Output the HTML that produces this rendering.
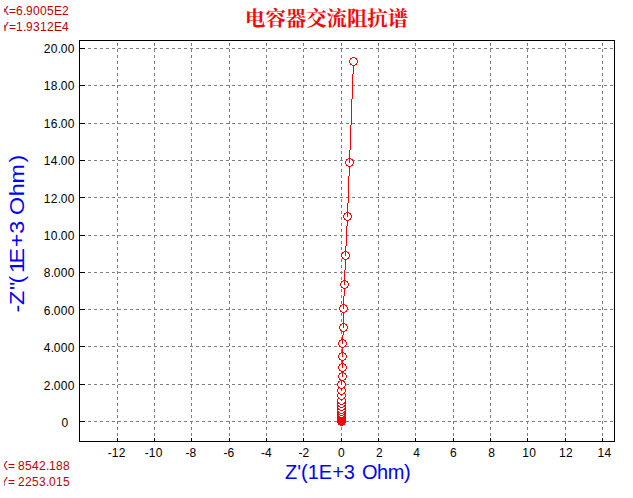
<!DOCTYPE html>
<html><head><meta charset="utf-8"><title>chart</title>
<style>html,body{margin:0;padding:0;background:#fff;overflow:hidden}body{width:633px;height:498px;position:relative;font-family:"Liberation Sans",sans-serif}</style>
</head><body>
<svg width="633" height="498" viewBox="0 0 633 498" style="position:absolute;left:0;top:0">
<rect width="633" height="498" fill="#fff"/>
<g shape-rendering="crispEdges">
<path d="M82 48.5H614M82 85.5H614M82 123.5H614M82 160.5H614M82 197.5H614M82 235.5H614M82 272.5H614M82 309.5H614M82 346.5H614M82 384.5H614M82 421.5H614" stroke="#808080" stroke-width="1" stroke-dasharray="3 3" fill="none"/>
<path d="M117.5 43V441M154.5 43V441M191.5 43V441M229.5 43V441M266.5 43V441M303.5 43V441M341.5 43V441M378.5 43V441M415.5 43V441M453.5 43V441M490.5 43V441M527.5 43V441M565.5 43V441M602.5 43V441" stroke="#808080" stroke-width="1" stroke-dasharray="3 3" fill="none"/>
<path d="M79.5 40.5H614.5V441.5H79.5Z" stroke="#000" stroke-width="1" fill="none"/>
<path d="M80 48h5v1h-5zM80 85h5v1h-5zM80 123h5v1h-5zM80 160h5v1h-5zM80 197h5v1h-5zM80 235h5v1h-5zM80 272h5v1h-5zM80 309h5v1h-5zM80 346h5v1h-5zM80 384h5v1h-5zM80 421h5v1h-5zM117 438h1v3h-1zM154 438h1v3h-1zM191 438h1v3h-1zM229 438h1v3h-1zM266 438h1v3h-1zM303 438h1v3h-1zM341 438h1v3h-1zM378 438h1v3h-1zM415 438h1v3h-1zM453 438h1v3h-1zM490 438h1v3h-1zM527 438h1v3h-1zM565 438h1v3h-1zM602 438h1v3h-1z" fill="#000"/>
<path fill="#ffffff" d="M352 58h3v1h-3zM351 59h5v1h-5zM350 60h7v1h-7zM350 61h7v1h-7zM350 62h7v1h-7zM351 63h5v1h-5zM352 64h3v1h-3zM348 159h1v1h-1zM350 159h1v1h-1zM347 160h2v1h-2zM350 160h2v1h-2zM346 161h3v1h-3zM350 161h3v1h-3zM346 162h3v1h-3zM350 162h3v1h-3zM346 163h7v1h-7zM347 164h5v1h-5zM348 165h3v1h-3zM346 213h1v1h-1zM348 213h1v1h-1zM345 214h2v1h-2zM348 214h2v1h-2zM344 215h3v1h-3zM348 215h3v1h-3zM344 216h3v1h-3zM348 216h3v1h-3zM344 217h7v1h-7zM345 218h5v1h-5zM346 219h3v1h-3zM344 252h1v1h-1zM346 252h1v1h-1zM343 253h2v1h-2zM346 253h2v1h-2zM342 254h3v1h-3zM346 254h3v1h-3zM342 255h3v1h-3zM346 255h3v1h-3zM342 256h7v1h-7zM343 257h5v1h-5zM344 258h3v1h-3zM343 281h1v1h-1zM345 281h1v1h-1zM342 282h2v1h-2zM345 282h2v1h-2zM341 283h3v1h-3zM345 283h3v1h-3zM341 284h3v1h-3zM345 284h3v1h-3zM341 285h7v1h-7zM342 286h5v1h-5zM343 287h3v1h-3zM342 305h1v1h-1zM344 305h1v1h-1zM341 306h2v1h-2zM344 306h2v1h-2zM340 307h3v1h-3zM344 307h3v1h-3zM340 308h3v1h-3zM344 308h3v1h-3zM340 309h7v1h-7zM341 310h5v1h-5zM342 311h3v1h-3zM342 324h1v1h-1zM344 324h1v1h-1zM341 325h2v1h-2zM344 325h2v1h-2zM340 326h3v1h-3zM344 326h3v1h-3zM340 327h3v1h-3zM344 327h3v1h-3zM340 328h7v1h-7zM341 329h5v1h-5zM342 330h3v1h-3zM341 340h1v1h-1zM343 340h1v1h-1zM340 341h2v1h-2zM343 341h2v1h-2zM339 342h3v1h-3zM343 342h3v1h-3zM339 343h3v1h-3zM343 343h3v1h-3zM339 344h7v1h-7zM340 345h5v1h-5zM341 346h3v1h-3zM341 353h1v1h-1zM343 353h1v1h-1zM340 354h2v1h-2zM343 354h2v1h-2zM339 355h3v1h-3zM343 355h3v1h-3zM339 356h3v1h-3zM343 356h3v1h-3zM339 357h7v1h-7zM340 358h5v1h-5zM341 359h3v1h-3zM341 364h1v1h-1zM343 364h1v1h-1zM340 365h2v1h-2zM343 365h2v1h-2zM339 366h3v1h-3zM343 366h3v1h-3zM339 367h3v1h-3zM343 367h3v1h-3zM339 368h7v1h-7zM340 369h5v1h-5zM341 370h3v1h-3zM341 373h1v1h-1zM343 373h1v1h-1zM340 374h2v1h-2zM343 374h2v1h-2zM339 375h3v1h-3zM343 375h3v1h-3zM339 376h3v1h-3zM343 376h3v1h-3zM339 377h7v1h-7zM340 378h5v1h-5zM341 379h3v1h-3zM340 381h1v1h-1zM342 381h1v1h-1zM339 382h2v1h-2zM342 382h2v1h-2zM338 383h3v1h-3zM342 383h3v1h-3zM338 384h3v1h-3zM342 384h3v1h-3zM338 385h7v1h-7zM339 386h5v1h-5zM340 387h3v1h-3zM339 388h1v1h-1zM343 388h1v1h-1zM338 389h3v1h-3zM342 389h3v1h-3zM338 390h3v1h-3zM342 390h3v1h-3zM338 391h7v1h-7zM339 392h5v1h-5zM340 393h3v1h-3zM338 394h2v1h-2zM343 394h2v1h-2zM338 395h3v1h-3zM342 395h3v1h-3zM338 396h7v1h-7zM339 397h5v1h-5zM340 398h3v1h-3zM338 399h2v1h-2zM343 399h2v1h-2zM338 400h3v1h-3zM342 400h3v1h-3zM338 401h7v1h-7zM339 402h5v1h-5zM340 403h3v1h-3zM338 404h2v1h-2zM343 404h2v1h-2zM339 405h5v1h-5zM340 406h3v1h-3zM338 407h2v1h-2zM343 407h2v1h-2zM339 408h5v1h-5zM340 409h3v1h-3zM338 410h2v1h-2zM343 410h2v1h-2zM339 411h5v1h-5zM340 412h3v1h-3zM339 413h1v1h-1zM343 413h1v1h-1zM340 414h3v1h-3zM339 415h1v1h-1zM343 415h1v1h-1zM340 416h3v1h-3z"/><path fill="#ff0000" d="M352 57h3v1h-3zM350 58h2v1h-2zM355 58h2v1h-2zM350 59h1v1h-1zM356 59h1v1h-1zM349 60h1v1h-1zM357 60h1v1h-1zM349 61h1v1h-1zM357 61h1v1h-1zM349 62h1v1h-1zM357 62h1v1h-1zM350 63h1v1h-1zM356 63h1v1h-1zM350 64h2v1h-2zM355 64h2v1h-2zM352 65h3v1h-3zM353 66h1v1h-1zM353 67h1v1h-1zM353 68h1v1h-1zM353 69h1v1h-1zM353 70h1v1h-1zM353 71h1v1h-1zM353 72h1v1h-1zM353 73h1v1h-1zM352 74h1v1h-1zM352 75h1v1h-1zM352 76h1v1h-1zM352 77h1v1h-1zM352 78h1v1h-1zM352 79h1v1h-1zM352 80h1v1h-1zM352 81h1v1h-1zM352 82h1v1h-1zM352 83h1v1h-1zM352 84h1v1h-1zM352 85h1v1h-1zM352 86h1v1h-1zM352 87h1v1h-1zM352 88h1v1h-1zM352 89h1v1h-1zM352 90h1v1h-1zM352 91h1v1h-1zM352 92h1v1h-1zM352 93h1v1h-1zM352 94h1v1h-1zM352 95h1v1h-1zM352 96h1v1h-1zM352 97h1v1h-1zM352 98h1v1h-1zM351 99h1v1h-1zM351 100h1v1h-1zM351 101h1v1h-1zM351 102h1v1h-1zM351 103h1v1h-1zM351 104h1v1h-1zM351 105h1v1h-1zM351 106h1v1h-1zM351 107h1v1h-1zM351 108h1v1h-1zM351 109h1v1h-1zM351 110h1v1h-1zM351 111h1v1h-1zM351 112h1v1h-1zM351 113h1v1h-1zM351 114h1v1h-1zM351 115h1v1h-1zM351 116h1v1h-1zM351 117h1v1h-1zM351 118h1v1h-1zM351 119h1v1h-1zM351 120h1v1h-1zM351 121h1v1h-1zM351 122h1v1h-1zM351 123h1v1h-1zM351 124h1v1h-1zM350 125h1v1h-1zM350 126h1v1h-1zM350 127h1v1h-1zM350 128h1v1h-1zM350 129h1v1h-1zM350 130h1v1h-1zM350 131h1v1h-1zM350 132h1v1h-1zM350 133h1v1h-1zM350 134h1v1h-1zM350 135h1v1h-1zM350 136h1v1h-1zM350 137h1v1h-1zM350 138h1v1h-1zM350 139h1v1h-1zM350 140h1v1h-1zM350 141h1v1h-1zM350 142h1v1h-1zM350 143h1v1h-1zM350 144h1v1h-1zM350 145h1v1h-1zM350 146h1v1h-1zM350 147h1v1h-1zM350 148h1v1h-1zM350 149h1v1h-1zM349 150h1v1h-1zM349 151h1v1h-1zM349 152h1v1h-1zM349 153h1v1h-1zM349 154h1v1h-1zM349 155h1v1h-1zM349 156h1v1h-1zM349 157h1v1h-1zM348 158h3v1h-3zM346 159h2v1h-2zM349 159h1v1h-1zM351 159h2v1h-2zM346 160h1v1h-1zM349 160h1v1h-1zM352 160h1v1h-1zM345 161h1v1h-1zM349 161h1v1h-1zM353 161h1v1h-1zM345 162h1v1h-1zM349 162h1v1h-1zM353 162h1v1h-1zM345 163h1v1h-1zM353 163h1v1h-1zM346 164h1v1h-1zM352 164h1v1h-1zM346 165h2v1h-2zM351 165h2v1h-2zM348 166h3v1h-3zM349 167h1v1h-1zM349 168h1v1h-1zM349 169h1v1h-1zM349 170h1v1h-1zM349 171h1v1h-1zM349 172h1v1h-1zM349 173h1v1h-1zM349 174h1v1h-1zM349 175h1v1h-1zM348 176h1v1h-1zM348 177h1v1h-1zM348 178h1v1h-1zM348 179h1v1h-1zM348 180h1v1h-1zM348 181h1v1h-1zM348 182h1v1h-1zM348 183h1v1h-1zM348 184h1v1h-1zM348 185h1v1h-1zM348 186h1v1h-1zM348 187h1v1h-1zM348 188h1v1h-1zM348 189h1v1h-1zM348 190h1v1h-1zM348 191h1v1h-1zM348 192h1v1h-1zM348 193h1v1h-1zM348 194h1v1h-1zM348 195h1v1h-1zM348 196h1v1h-1zM348 197h1v1h-1zM348 198h1v1h-1zM348 199h1v1h-1zM348 200h1v1h-1zM348 201h1v1h-1zM348 202h1v1h-1zM347 203h1v1h-1zM347 204h1v1h-1zM347 205h1v1h-1zM347 206h1v1h-1zM347 207h1v1h-1zM347 208h1v1h-1zM347 209h1v1h-1zM347 210h1v1h-1zM347 211h1v1h-1zM346 212h3v1h-3zM344 213h2v1h-2zM347 213h1v1h-1zM349 213h2v1h-2zM344 214h1v1h-1zM347 214h1v1h-1zM350 214h1v1h-1zM343 215h1v1h-1zM347 215h1v1h-1zM351 215h1v1h-1zM343 216h1v1h-1zM347 216h1v1h-1zM351 216h1v1h-1zM343 217h1v1h-1zM351 217h1v1h-1zM344 218h1v1h-1zM350 218h1v1h-1zM344 219h2v1h-2zM349 219h2v1h-2zM346 220h3v1h-3zM347 221h1v1h-1zM347 222h1v1h-1zM347 223h1v1h-1zM347 224h1v1h-1zM347 225h1v1h-1zM346 226h1v1h-1zM346 227h1v1h-1zM346 228h1v1h-1zM346 229h1v1h-1zM346 230h1v1h-1zM346 231h1v1h-1zM346 232h1v1h-1zM346 233h1v1h-1zM346 234h1v1h-1zM346 235h1v1h-1zM346 236h1v1h-1zM346 237h1v1h-1zM346 238h1v1h-1zM346 239h1v1h-1zM346 240h1v1h-1zM346 241h1v1h-1zM346 242h1v1h-1zM346 243h1v1h-1zM346 244h1v1h-1zM346 245h1v1h-1zM345 246h1v1h-1zM345 247h1v1h-1zM345 248h1v1h-1zM345 249h1v1h-1zM345 250h1v1h-1zM344 251h3v1h-3zM342 252h2v1h-2zM345 252h1v1h-1zM347 252h2v1h-2zM342 253h1v1h-1zM345 253h1v1h-1zM348 253h1v1h-1zM341 254h1v1h-1zM345 254h1v1h-1zM349 254h1v1h-1zM341 255h1v1h-1zM345 255h1v1h-1zM349 255h1v1h-1zM341 256h1v1h-1zM349 256h1v1h-1zM342 257h1v1h-1zM348 257h1v1h-1zM342 258h2v1h-2zM347 258h2v1h-2zM344 259h3v1h-3zM345 260h1v1h-1zM345 261h1v1h-1zM345 262h1v1h-1zM345 263h1v1h-1zM345 264h1v1h-1zM345 265h1v1h-1zM345 266h1v1h-1zM345 267h1v1h-1zM345 268h1v1h-1zM345 269h1v1h-1zM344 270h1v1h-1zM344 271h1v1h-1zM344 272h1v1h-1zM344 273h1v1h-1zM344 274h1v1h-1zM344 275h1v1h-1zM344 276h1v1h-1zM344 277h1v1h-1zM344 278h1v1h-1zM344 279h1v1h-1zM343 280h3v1h-3zM341 281h2v1h-2zM344 281h1v1h-1zM346 281h2v1h-2zM341 282h1v1h-1zM344 282h1v1h-1zM347 282h1v1h-1zM340 283h1v1h-1zM344 283h1v1h-1zM348 283h1v1h-1zM340 284h1v1h-1zM344 284h1v1h-1zM348 284h1v1h-1zM340 285h1v1h-1zM348 285h1v1h-1zM341 286h1v1h-1zM347 286h1v1h-1zM341 287h2v1h-2zM346 287h2v1h-2zM343 288h3v1h-3zM344 289h1v1h-1zM344 290h1v1h-1zM344 291h1v1h-1zM344 292h1v1h-1zM344 293h1v1h-1zM344 294h1v1h-1zM344 295h1v1h-1zM343 296h1v1h-1zM343 297h1v1h-1zM343 298h1v1h-1zM343 299h1v1h-1zM343 300h1v1h-1zM343 301h1v1h-1zM343 302h1v1h-1zM343 303h1v1h-1zM342 304h3v1h-3zM340 305h2v1h-2zM343 305h1v1h-1zM345 305h2v1h-2zM340 306h1v1h-1zM343 306h1v1h-1zM346 306h1v1h-1zM339 307h1v1h-1zM343 307h1v1h-1zM347 307h1v1h-1zM339 308h1v1h-1zM343 308h1v1h-1zM347 308h1v1h-1zM339 309h1v1h-1zM347 309h1v1h-1zM340 310h1v1h-1zM346 310h1v1h-1zM340 311h2v1h-2zM345 311h2v1h-2zM342 312h3v1h-3zM343 313h1v1h-1zM343 314h1v1h-1zM343 315h1v1h-1zM343 316h1v1h-1zM343 317h1v1h-1zM343 318h1v1h-1zM343 319h1v1h-1zM343 320h1v1h-1zM343 321h1v1h-1zM343 322h1v1h-1zM342 323h3v1h-3zM340 324h2v1h-2zM343 324h1v1h-1zM345 324h2v1h-2zM340 325h1v1h-1zM343 325h1v1h-1zM346 325h1v1h-1zM339 326h1v1h-1zM343 326h1v1h-1zM347 326h1v1h-1zM339 327h1v1h-1zM343 327h1v1h-1zM347 327h1v1h-1zM339 328h1v1h-1zM347 328h1v1h-1zM340 329h1v1h-1zM346 329h1v1h-1zM340 330h2v1h-2zM345 330h2v1h-2zM342 331h3v1h-3zM343 332h1v1h-1zM343 333h1v1h-1zM343 334h1v1h-1zM342 335h1v1h-1zM342 336h1v1h-1zM342 337h1v1h-1zM342 338h1v1h-1zM341 339h3v1h-3zM339 340h2v1h-2zM342 340h1v1h-1zM344 340h2v1h-2zM339 341h1v1h-1zM342 341h1v1h-1zM345 341h1v1h-1zM338 342h1v1h-1zM342 342h1v1h-1zM346 342h1v1h-1zM338 343h1v1h-1zM342 343h1v1h-1zM346 343h1v1h-1zM338 344h1v1h-1zM346 344h1v1h-1zM339 345h1v1h-1zM345 345h1v1h-1zM339 346h2v1h-2zM344 346h2v1h-2zM341 347h3v1h-3zM342 348h1v1h-1zM342 349h1v1h-1zM342 350h1v1h-1zM342 351h1v1h-1zM341 352h3v1h-3zM339 353h2v1h-2zM342 353h1v1h-1zM344 353h2v1h-2zM339 354h1v1h-1zM342 354h1v1h-1zM345 354h1v1h-1zM338 355h1v1h-1zM342 355h1v1h-1zM346 355h1v1h-1zM338 356h1v1h-1zM342 356h1v1h-1zM346 356h1v1h-1zM338 357h1v1h-1zM346 357h1v1h-1zM339 358h1v1h-1zM345 358h1v1h-1zM339 359h2v1h-2zM344 359h2v1h-2zM341 360h3v1h-3zM342 361h1v1h-1zM342 362h1v1h-1zM341 363h3v1h-3zM339 364h2v1h-2zM342 364h1v1h-1zM344 364h2v1h-2zM339 365h1v1h-1zM342 365h1v1h-1zM345 365h1v1h-1zM338 366h1v1h-1zM342 366h1v1h-1zM346 366h1v1h-1zM338 367h1v1h-1zM342 367h1v1h-1zM346 367h1v1h-1zM338 368h1v1h-1zM346 368h1v1h-1zM339 369h1v1h-1zM345 369h1v1h-1zM339 370h2v1h-2zM344 370h2v1h-2zM341 371h3v1h-3zM341 372h3v1h-3zM339 373h2v1h-2zM342 373h1v1h-1zM344 373h2v1h-2zM339 374h1v1h-1zM342 374h1v1h-1zM345 374h1v1h-1zM338 375h1v1h-1zM342 375h1v1h-1zM346 375h1v1h-1zM338 376h1v1h-1zM342 376h1v1h-1zM346 376h1v1h-1zM338 377h1v1h-1zM346 377h1v1h-1zM339 378h1v1h-1zM345 378h1v1h-1zM339 379h2v1h-2zM344 379h2v1h-2zM340 380h4v1h-4zM338 381h2v1h-2zM341 381h1v1h-1zM343 381h2v1h-2zM338 382h1v1h-1zM341 382h1v1h-1zM344 382h1v1h-1zM337 383h1v1h-1zM341 383h1v1h-1zM345 383h1v1h-1zM337 384h1v1h-1zM341 384h1v1h-1zM345 384h1v1h-1zM337 385h1v1h-1zM345 385h1v1h-1zM338 386h1v1h-1zM344 386h1v1h-1zM338 387h2v1h-2zM343 387h2v1h-2zM338 388h1v1h-1zM340 388h3v1h-3zM344 388h1v1h-1zM337 389h1v1h-1zM341 389h1v1h-1zM345 389h1v1h-1zM337 390h1v1h-1zM341 390h1v1h-1zM345 390h1v1h-1zM337 391h1v1h-1zM345 391h1v1h-1zM338 392h1v1h-1zM344 392h1v1h-1zM338 393h2v1h-2zM343 393h2v1h-2zM337 394h1v1h-1zM340 394h3v1h-3zM345 394h1v1h-1zM337 395h1v1h-1zM341 395h1v1h-1zM345 395h1v1h-1zM337 396h1v1h-1zM345 396h1v1h-1zM338 397h1v1h-1zM344 397h1v1h-1zM338 398h2v1h-2zM343 398h2v1h-2zM337 399h1v1h-1zM340 399h3v1h-3zM345 399h1v1h-1zM337 400h1v1h-1zM341 400h1v1h-1zM345 400h1v1h-1zM337 401h1v1h-1zM345 401h1v1h-1zM337 402h2v1h-2zM344 402h2v1h-2zM337 403h3v1h-3zM343 403h3v1h-3zM337 404h1v1h-1zM340 404h3v1h-3zM345 404h1v1h-1zM337 405h2v1h-2zM344 405h2v1h-2zM337 406h3v1h-3zM343 406h3v1h-3zM337 407h1v1h-1zM340 407h3v1h-3zM345 407h1v1h-1zM337 408h2v1h-2zM344 408h2v1h-2zM337 409h3v1h-3zM343 409h3v1h-3zM337 410h1v1h-1zM340 410h3v1h-3zM345 410h1v1h-1zM337 411h2v1h-2zM344 411h2v1h-2zM337 412h3v1h-3zM343 412h3v1h-3zM337 413h2v1h-2zM340 413h3v1h-3zM344 413h2v1h-2zM337 414h3v1h-3zM343 414h3v1h-3zM337 415h2v1h-2zM340 415h3v1h-3zM344 415h2v1h-2zM337 416h3v1h-3zM343 416h3v1h-3zM337 417h9v1h-9zM337 418h9v1h-9zM337 419h9v1h-9zM337 420h9v1h-9zM337 421h9v1h-9zM337 422h9v1h-9zM338 423h7v1h-7zM338 424h7v1h-7zM340 425h3v1h-3z"/>
</g>
<g transform="translate(0,53.0) scale(1,1.05)"><text x="43.70 50.70 57.70 60.70 67.70" y="0" font-family="Liberation Sans, sans-serif" font-size="12" fill="#000" xml:space="preserve" style="white-space:pre">20.00</text></g>
<g transform="translate(0,90.0) scale(1,1.05)"><text x="43.70 50.70 57.70 60.70 67.70" y="0" font-family="Liberation Sans, sans-serif" font-size="12" fill="#000" xml:space="preserve" style="white-space:pre">18.00</text></g>
<g transform="translate(0,128.0) scale(1,1.05)"><text x="43.70 50.70 57.70 60.70 67.70" y="0" font-family="Liberation Sans, sans-serif" font-size="12" fill="#000" xml:space="preserve" style="white-space:pre">16.00</text></g>
<g transform="translate(0,165.0) scale(1,1.05)"><text x="43.70 50.70 57.70 60.70 67.70" y="0" font-family="Liberation Sans, sans-serif" font-size="12" fill="#000" xml:space="preserve" style="white-space:pre">14.00</text></g>
<g transform="translate(0,203.0) scale(1,1.05)"><text x="43.70 50.70 57.70 60.70 67.70" y="0" font-family="Liberation Sans, sans-serif" font-size="12" fill="#000" xml:space="preserve" style="white-space:pre">12.00</text></g>
<g transform="translate(0,240.0) scale(1,1.05)"><text x="43.70 50.70 57.70 60.70 67.70" y="0" font-family="Liberation Sans, sans-serif" font-size="12" fill="#000" xml:space="preserve" style="white-space:pre">10.00</text></g>
<g transform="translate(0,277.0) scale(1,1.05)"><text x="43.70 50.70 53.70 60.70 67.70" y="0" font-family="Liberation Sans, sans-serif" font-size="12" fill="#000" xml:space="preserve" style="white-space:pre">8.000</text></g>
<g transform="translate(0,315.0) scale(1,1.05)"><text x="43.70 50.70 53.70 60.70 67.70" y="0" font-family="Liberation Sans, sans-serif" font-size="12" fill="#000" xml:space="preserve" style="white-space:pre">6.000</text></g>
<g transform="translate(0,352.0) scale(1,1.05)"><text x="43.70 50.70 53.70 60.70 67.70" y="0" font-family="Liberation Sans, sans-serif" font-size="12" fill="#000" xml:space="preserve" style="white-space:pre">4.000</text></g>
<g transform="translate(0,390.0) scale(1,1.05)"><text x="43.70 50.70 53.70 60.70 67.70" y="0" font-family="Liberation Sans, sans-serif" font-size="12" fill="#000" xml:space="preserve" style="white-space:pre">2.000</text></g>
<g transform="translate(0,427.0) scale(1,1.05)"><text x="61.60" y="0" font-family="Liberation Sans, sans-serif" font-size="12" fill="#000" xml:space="preserve" style="white-space:pre">0</text></g>
<g transform="translate(0,457.3) scale(1,1.05)"><text x="107.80 111.80 118.80" y="0" font-family="Liberation Sans, sans-serif" font-size="12" fill="#000" xml:space="preserve" style="white-space:pre">-12</text></g>
<g transform="translate(0,457.3) scale(1,1.05)"><text x="144.80 148.80 155.80" y="0" font-family="Liberation Sans, sans-serif" font-size="12" fill="#000" xml:space="preserve" style="white-space:pre">-10</text></g>
<g transform="translate(0,457.3) scale(1,1.05)"><text x="185.60 189.60" y="0" font-family="Liberation Sans, sans-serif" font-size="12" fill="#000" xml:space="preserve" style="white-space:pre">-8</text></g>
<g transform="translate(0,457.3) scale(1,1.05)"><text x="223.60 227.60" y="0" font-family="Liberation Sans, sans-serif" font-size="12" fill="#000" xml:space="preserve" style="white-space:pre">-6</text></g>
<g transform="translate(0,457.3) scale(1,1.05)"><text x="260.90 264.90" y="0" font-family="Liberation Sans, sans-serif" font-size="12" fill="#000" xml:space="preserve" style="white-space:pre">-4</text></g>
<g transform="translate(0,457.3) scale(1,1.05)"><text x="298.60 302.60" y="0" font-family="Liberation Sans, sans-serif" font-size="12" fill="#000" xml:space="preserve" style="white-space:pre">-2</text></g>
<g transform="translate(0,457.3) scale(1,1.05)"><text x="338.00" y="0" font-family="Liberation Sans, sans-serif" font-size="12" fill="#000" xml:space="preserve" style="white-space:pre">0</text></g>
<g transform="translate(0,457.3) scale(1,1.05)"><text x="376.00" y="0" font-family="Liberation Sans, sans-serif" font-size="12" fill="#000" xml:space="preserve" style="white-space:pre">2</text></g>
<g transform="translate(0,457.3) scale(1,1.05)"><text x="413.20" y="0" font-family="Liberation Sans, sans-serif" font-size="12" fill="#000" xml:space="preserve" style="white-space:pre">4</text></g>
<g transform="translate(0,457.3) scale(1,1.05)"><text x="450.00" y="0" font-family="Liberation Sans, sans-serif" font-size="12" fill="#000" xml:space="preserve" style="white-space:pre">6</text></g>
<g transform="translate(0,457.3) scale(1,1.05)"><text x="488.20" y="0" font-family="Liberation Sans, sans-serif" font-size="12" fill="#000" xml:space="preserve" style="white-space:pre">8</text></g>
<g transform="translate(0,457.3) scale(1,1.05)"><text x="522.30 529.30" y="0" font-family="Liberation Sans, sans-serif" font-size="12" fill="#000" xml:space="preserve" style="white-space:pre">10</text></g>
<g transform="translate(0,457.3) scale(1,1.05)"><text x="559.00 566.00" y="0" font-family="Liberation Sans, sans-serif" font-size="12" fill="#000" xml:space="preserve" style="white-space:pre">12</text></g>
<g transform="translate(0,457.3) scale(1,1.05)"><text x="597.50 604.50" y="0" font-family="Liberation Sans, sans-serif" font-size="12" fill="#000" xml:space="preserve" style="white-space:pre">14</text></g>
<g transform="translate(0,479) scale(1,1.035)"><text x="285.00 297.22 301.04 307.70 318.82 332.16 343.84 354.96 361.92 377.02 387.70 403.91" y="0" font-family="Liberation Sans, sans-serif" font-size="20" fill="#0000ff" xml:space="preserve" style="white-space:pre">Z&#39;(1E+3 Ohm)</text></g>
<g transform="translate(24,311.6) rotate(-90) translate(0,0) scale(1,0.89)"><text x="-1.00 6.65 21.70 28.20 38.70 48.10 64.26 77.80 90.00 96.50 115.40 128.00 149.10" y="0" font-family="Liberation Sans, sans-serif" font-size="23.3" fill="#0000ff" xml:space="preserve" style="white-space:pre">-Z&quot;(1E+3 Ohm)</text></g>
<g transform="translate(0,15) scale(1,1.05)"><text x="1.00 9.00 16.00 23.00 26.00 33.00 40.00 47.00 54.00 62.00" y="0" font-family="Liberation Sans, sans-serif" font-size="12" fill="#c00000" xml:space="preserve" style="white-space:pre">X=6.9005E2</text></g>
<g transform="translate(0,31) scale(1,1.05)"><text x="1.00 9.00 16.00 23.00 26.00 33.00 40.00 47.00 54.00 62.00" y="0" font-family="Liberation Sans, sans-serif" font-size="12" fill="#c00000" xml:space="preserve" style="white-space:pre">Y=1.9312E4</text></g>
<g transform="translate(0,470) scale(1,1.05)"><text x="0.00 8.00 15.00 18.00 25.00 32.00 39.00 46.00 49.00 56.00 63.00" y="0" font-family="Liberation Sans, sans-serif" font-size="12" fill="#c00000" xml:space="preserve" style="white-space:pre">X= 8542.188</text></g>
<g transform="translate(0,486) scale(1,1.05)"><text x="0.00 8.00 15.00 18.00 25.00 32.00 39.00 46.00 49.00 56.00 63.00" y="0" font-family="Liberation Sans, sans-serif" font-size="12" fill="#c00000" xml:space="preserve" style="white-space:pre">Y= 2253.015</text></g>
<rect x="0" y="0" width="4" height="498" fill="#fff"/>
<text x="245" y="26" font-family="'Liberation Serif', 'Noto Serif CJK SC', serif" font-size="20.4" font-weight="bold" fill="#ff0000">电容器交流阻抗谱</text>
</svg>
</body></html>
